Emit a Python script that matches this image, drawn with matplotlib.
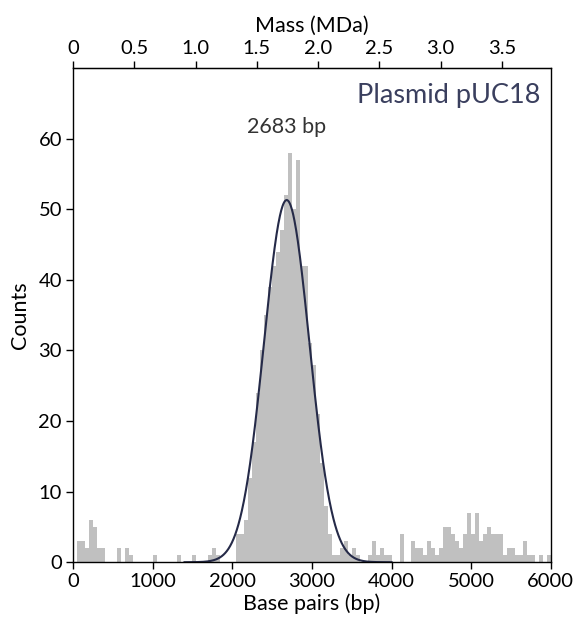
import numpy as np
import matplotlib.pyplot as plt

plt.rcParams['font.family'] = ['Lato', 'DejaVu Sans']

# histogram: 50 bp bins from 0 to 6000 bp
bin_width = 50
counts = [
    0, 3, 3, 2, 6, 5, 2, 2, 0, 0,
    0, 2, 0, 2, 1, 0, 0, 0, 0, 0,
    1, 0, 0, 0, 0, 0, 1, 0, 0, 0,
    1, 0, 0, 0, 1, 2, 1, 0, 0, 0,
    0, 4, 4, 6, 12, 17, 24, 30, 35, 39,
    42, 44, 47, 52, 58, 50, 57, 42, 42, 31,
    28, 21, 14, 8, 4, 1, 1, 2, 3, 1,
    2, 1, 0, 0, 1, 3, 1, 2, 1, 1,
    0, 0, 4, 0, 0, 3, 2, 2, 1, 3,
    2, 1, 2, 5, 5, 4, 3, 2, 4, 7,
    4, 7, 3, 4, 5, 4, 4, 4, 1, 2,
    2, 1, 1, 3, 1, 1, 0, 1, 0, 1,
]
edges = np.arange(0, 6000 + bin_width, bin_width)

# gaussian fit of the main peak
fit_center = 2683
fit_sigma = 285
fit_height = 51.3

# 650 Da per base pair
da_per_bp = 650.0

bar_color = '#c0c0c0'
line_color = '#252a48'
title_color = '#3a3f5e'

fig = plt.figure(figsize=(5.75, 6.24), dpi=100)
ax = fig.add_axes([0.127, 0.099, 0.831, 0.792])

ax.bar(edges[:-1], counts, width=bin_width, align='edge', color=bar_color,
       linewidth=0)

xs = np.linspace(1400, 4000, 500)
ax.plot(xs, fit_height * np.exp(-0.5 * ((xs - fit_center) / fit_sigma) ** 2),
        color=line_color, lw=1.5)

ax.set_xlim(0, 6000)
ax.set_ylim(0, 70)
ax.set_xticks(range(0, 6001, 1000))
ax.set_yticks(range(0, 61, 10))
ax.tick_params(direction='out', length=5, width=1, labelsize=14.5,
               colors='black', pad=3)
for s in ax.spines.values():
    s.set_linewidth(1)
ax.set_xlabel('Base pairs (bp)', fontsize=15.5, labelpad=2)
ax.set_ylabel('Counts', fontsize=15.5, labelpad=6)

top = ax.secondary_xaxis('top', functions=(lambda b: b * da_per_bp / 1e6,
                                           lambda m: m * 1e6 / da_per_bp))
mda_ticks = [0, 0.5, 1.0, 1.5, 2.0, 2.5, 3.0, 3.5]
top.set_xticks(mda_ticks)
top.set_xticklabels(['0', '0.5', '1.0', '1.5', '2.0', '2.5', '3.0', '3.5'])
top.tick_params(direction='out', length=5, width=1, labelsize=14.5, pad=3)
top.set_xlabel('Mass (MDa)', fontsize=15.5, labelpad=6)

ax.text(fit_center, 61.6, '2683 bp', ha='center', va='center',
        fontsize=15.5, color='#333333')
ax.text(0.979, 0.945, 'Plasmid pUC18', transform=ax.transAxes,
        ha='right', va='center', fontsize=19.5, color=title_color)

fig.savefig('out.png', dpi=100)
